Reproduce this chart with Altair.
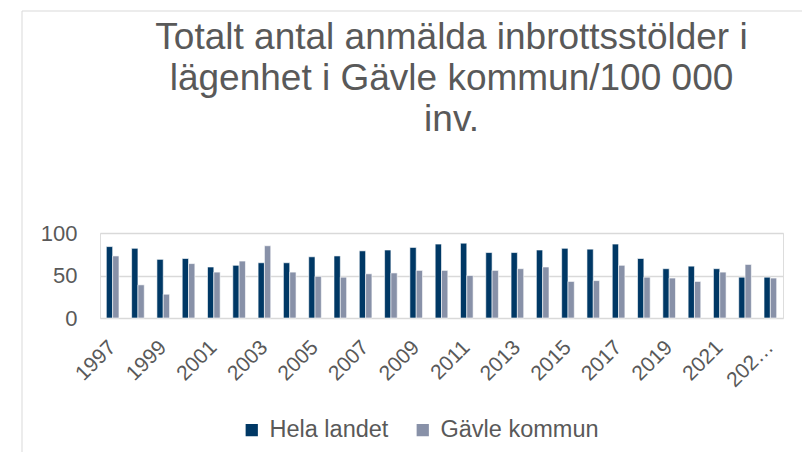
import altair as alt
import pandas as pd

years = [str(y) for y in range(1997, 2024)]
hela_landet = [84, 82, 69, 70, 60, 62, 65, 65, 72, 73, 79, 80, 83, 87, 88, 77, 77, 80, 82, 81, 87, 70, 58, 61, 58, 48, 48]
gavle_kommun = [73, 39, 28, 64, 54, 67, 85, 54, 49, 48, 52, 53, 56, 56, 50, 56, 58, 60, 43, 44, 62, 48, 47, 43, 54, 63, 47]
series = ["Hela landet", "Gävle kommun"]
colors = ["#003865", "#8891A8"]
title_lines = ["Totalt antal anmälda inbrottsstölder i", "lägenhet i Gävle kommun/100 000", "inv."]

rows = []
for i, y in enumerate(years):
    rows.append({"year": y, "serie": series[0], "value": hela_landet[i]})
    rows.append({"year": y, "serie": series[1], "value": gavle_kommun[i]})
df = pd.DataFrame(rows)

FONT = "Liberation Sans"
TXT = "#595959"

label_expr = ("datum.value == '2023' ? '202…' : "
              "((toNumber(datum.value) - 1997) % 2 == 0 ? datum.value : '')")

bars = alt.Chart(df).mark_bar(stroke="white", strokeWidth=0.6).encode(
    x=alt.X("year:N", sort=years, title=None,
            scale=alt.Scale(paddingInner=0.5, paddingOuter=0.25),
            axis=alt.Axis(labelAngle=-45, labelFontSize=21, labelColor=TXT, labelFont=FONT,
                          labelAlign="right", labelBaseline="middle", labelPadding=26,
                          ticks=False, domain=False, labelExpr=label_expr, labelOverlap=False)),
    xOffset=alt.XOffset("serie:N", sort=series),
    y=alt.Y("value:Q", title=None,
            scale=alt.Scale(domain=[0, 100], nice=False),
            axis=alt.Axis(values=[0, 50, 100], labelFontSize=22, labelColor=TXT, labelFont=FONT,
                          ticks=False, domain=False, labelPadding=23,
                          grid=True, gridColor="#D9D9D9", gridWidth=1.5)),
    color=alt.Color("serie:N", sort=series,
                    scale=alt.Scale(domain=series, range=colors),
                    legend=alt.Legend(title=None, orient="none", legendX=140, legendY=185,
                                      direction="horizontal", symbolType="square",
                                      symbolSize=150, symbolStrokeWidth=0,
                                      labelFontSize=23.5, labelColor=TXT, labelFont=FONT,
                                      labelOffset=6, columnPadding=22)),
)

frame_df = pd.DataFrame({"a": [0]})
top_line = alt.Chart(frame_df).mark_rule(color="#D9D9D9", strokeWidth=1).encode(
    x=alt.value(-78), x2=alt.value(740), y=alt.value(-222))
left_line = alt.Chart(frame_df).mark_rule(color="#D9D9D9", strokeWidth=1).encode(
    x=alt.value(-78), y=alt.value(-222), y2=alt.value(260))

chart = alt.layer(top_line, left_line, bars).properties(
    width=683, height=85,
    autosize=alt.AutoSizeParams(type="none"),
    padding={"left": 92, "top": 225, "right": 19, "bottom": 134},
    title=alt.TitleParams(title_lines, fontSize=37, font=FONT, fontWeight="normal",
                          color=TXT, lineHeight=41, anchor="middle", frame="group",
                          dx=10, offset=-128),
).configure_view(stroke=None).configure(background="white")

chart.save("out.html", embed_options={"renderer": "svg", "actions": False})
